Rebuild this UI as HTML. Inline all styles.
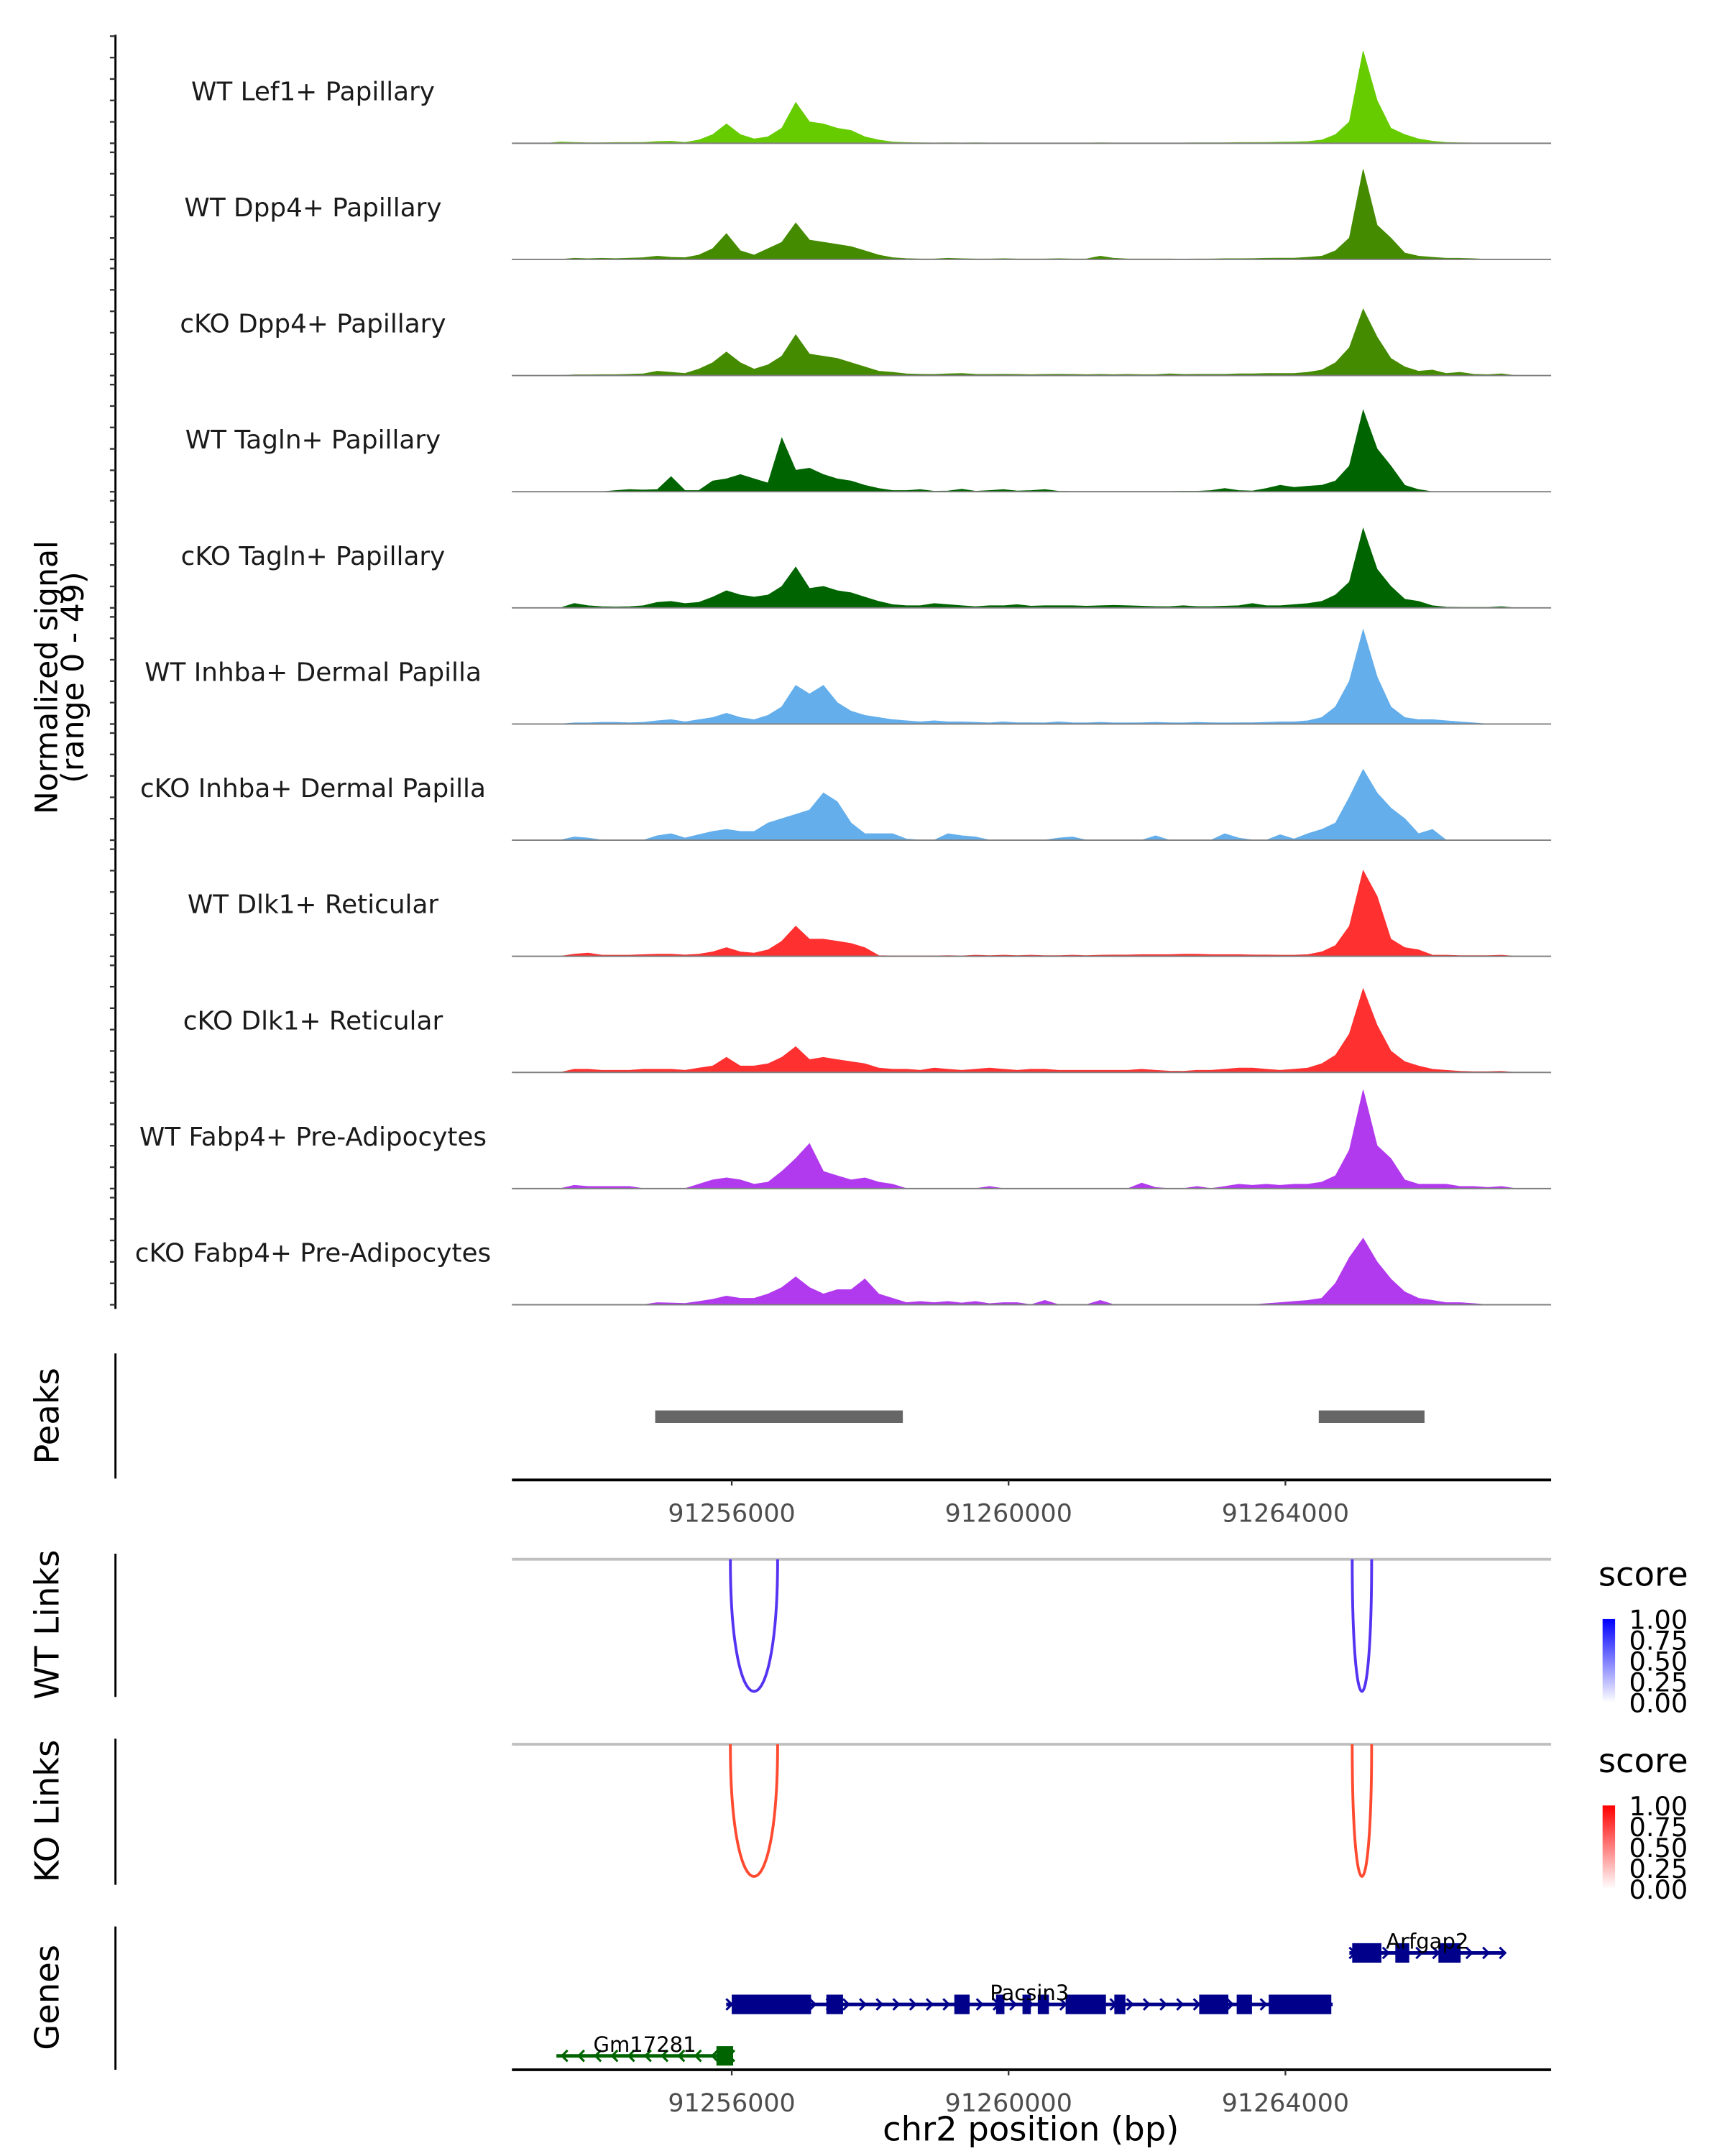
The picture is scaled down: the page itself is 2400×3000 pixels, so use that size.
<!DOCTYPE html>
<html><head><meta charset="utf-8"><style>
html,body{margin:0;padding:0;background:#fff}
svg{display:block}
text{font-family:"DejaVu Sans","Liberation Sans",sans-serif}
</style></head><body>
<svg id="fig" width="2400" height="3000" viewBox="0 0 1240 1550" xmlns="http://www.w3.org/2000/svg">
<defs>
<linearGradient id="gBlue" x1="0" y1="1" x2="0" y2="0"><stop offset="0" stop-color="#ffffff"/><stop offset="1" stop-color="#0000ff"/></linearGradient>
<linearGradient id="gRed" x1="0" y1="1" x2="0" y2="0"><stop offset="0" stop-color="#ffffff"/><stop offset="1" stop-color="#ff0000"/></linearGradient>
</defs>
<g id="tracks"></g>
<g id="lower"></g>
</svg>
<script>
// ---- data ----
const xStart = 91252824, xEnd = 91267839;
const binSize = 200;
const trackLabels = ["WT Lef1+ Papillary","WT Dpp4+ Papillary","cKO Dpp4+ Papillary","WT Tagln+ Papillary","cKO Tagln+ Papillary","WT Inhba+ Dermal Papilla","cKO Inhba+ Dermal Papilla","WT Dlk1+ Reticular","cKO Dlk1+ Reticular","WT Fabp4+ Pre-Adipocytes","cKO Fabp4+ Pre-Adipocytes"];
const trackColors = ["#66cc00","#458b00","#458b00","#006400","#006400","#63aeeb","#63aeeb","#ff3030","#ff3030","#b23aee","#b23aee"];
const t1=[0,0,0,0.6,0.4,0.2,0.2,0.3,0.3,0.4,0.8,1,0.4,1.5,4,9,4,2,3,7,19,10,9,7,6,3,1.5,0.6,0.3,0.2,0.1,0.2,0.1,0.2,0.1,0.1,0.1,0.1,0.1,0.1,0.1,0.1,0.2,0.1,0.1,0.1,0.1,0.1,0.1,0.2,0.2,0.2,0.3,0.3,0.4,0.5,0.6,0.8,1.5,4,10,43,20,7,4,2,1,0.4,0.2,0.1,0,0,0,0,0];
const t2=[0,0,0,0,0.5,0.3,0.5,0.4,0.6,0.8,1.5,1,0.8,2,5,12,4,2,5,8,17,9,8,7,6,4,2,0.8,0.4,0.2,0.2,0.5,0.3,0.2,0.2,0.3,0.2,0.2,0.2,0.3,0.2,0.2,1.5,0.5,0.2,0.2,0.2,0.2,0.1,0.2,0.2,0.3,0.3,0.4,0.5,0.6,0.6,1,1.5,4,10,42,16,10,3,1.5,1,0.5,0.5,0.3,0,0,0,0,0];
const t3=[0,0,0,0,0.3,0.3,0.4,0.4,0.6,0.8,2,1.5,1,3,6,11,6,3,5,9,19,10,9,8,6,4,2,1.5,0.8,0.6,0.5,0.8,1,0.6,0.5,0.6,0.5,0.4,0.5,0.6,0.5,0.4,0.5,0.4,0.5,0.4,0.4,0.8,0.5,0.6,0.6,0.6,0.8,0.8,1,1,1,1.5,2.5,6,13,31,18,8,4,2,2.5,1,1.5,0.6,0.4,0.8,0,0,0];
const t4=[0,0,0,0,0,0,0,0.5,1,0.8,1,7,0.5,0.5,5,6,8,6,4,25,10,11,8,6,5,3,1.5,0.5,0.5,1,0.2,0.3,1.2,0.2,0.5,1,0.3,0.5,1,0.2,0.1,0.1,0.1,0.1,0.1,0.1,0.1,0.1,0.2,0.2,0.5,1.5,0.5,0.3,1.5,3,2,2.5,3,5,12,38,20,12,3,1,0,0,0,0,0,0,0,0,0];
const t5=[0,0,0,0,2,1,0.5,0.4,0.5,1,2.5,3,2,2.5,5,8,6,5,6,10,19,9,10,8,7,5,3,1.5,1,1,2,1.5,1,0.5,1,1,1.5,0.8,1,1,1,0.8,1,1.2,1,0.8,0.6,0.5,1,0.6,0.6,0.8,1,2,1,1,1.5,2,3,6,12,37,18,10,4,3,1,0.3,0.2,0.2,0.2,0.5,0,0,0];
const t6=[0,0,0,0,0.5,0.5,0.8,0.8,0.6,0.8,1.5,2,1,2,3,5,3,2,4,8,18,14,18,10,6,4,3,2,1.5,1,1.5,1,1,0.8,0.5,1,0.6,0.6,0.5,1,0.6,0.5,0.8,0.5,0.5,0.6,0.8,0.6,0.5,0.8,0.6,0.5,0.6,0.6,0.8,1,1,1.5,3,8,20,44,22,8,3,2,2,1.5,1,0.5,0,0,0,0,0];
const t7=[0,0,0,0,1.5,1,0,0,0,0,2,3,1,2.5,4,5,4,4,8,10,12,14,22,18,8,3,3,3,0.5,0,0,3,2,1.5,0,0,0,0,0,1,1.5,0,0,0,0,0,2,0,0,0,0,3,1,0,0,2.5,0.5,3,5,8,20,33,22,15,10,3,5,0,0,0,0,0,0,0,0];
const t8=[0,0,0,0,1,1.5,0.5,0.5,0.5,0.8,1,1,0.6,1,2,4,2,1.5,3,7,14,8,8,7,6,4,0.3,0.2,0.2,0.2,0.2,0.3,0.2,0.5,0.3,0.5,0.3,0.5,0.3,0.3,0.5,0.3,0.5,0.6,0.6,0.8,0.8,0.8,1,1,0.8,0.8,0.8,0.6,0.6,0.5,0.5,0.8,2,5,14,40,28,8,4,3,0.5,0.5,0.3,0.3,0.3,0.5,0,0,0];
const t9=[0,0,0,0,1.5,1.5,1,1,1,1.5,1.5,1.5,1,2,3,7,3,3,4,7,12,6,7,6,5,4,2,1.5,1.5,1,2,1.5,1,1.5,2,1.5,1,1.5,1.5,1,1,1,1,1,1,1.5,1,0.6,0.5,1,1,1.5,2,2,1.5,1,1.5,2,4,8,18,39,22,10,5,3,1.5,1,0.5,0.3,0.3,0.5,0,0,0];
const t10=[0,0,0,0,1.5,1,1,1,1,0,0,0,0,2,4,5,4,2,3,8,14,21,8,6,4,5,3,2,0,0,0,0,0,0,1,0,0,0,0,0,0,0,0,0,0,2.5,0.5,0,0,1,0,1,2,1.5,2,1.5,2,2,3,6,18,46,20,14,4,2,2,2,1,1,0.5,1,0,0,0];
const t11=[0,0,0,0,0,0,0,0,0,0,1,0.8,0.6,1.5,2.5,4,3,3,5,8,13,8,5,7,7,12,5,3,1,1.5,1,1.5,0.8,1.5,0.5,1,1,0,2,0,0,0,2,0,0,0,0,0,0,0,0,0,0,0,0.5,1,1.5,2,3,10,22,31,20,12,6,3,2,1,1,0.5,0,0,0,0,0];
const signals=[t1,t2,t3,t4,t5,t6,t7,t8,t9,t10,t11];
const xTicks=[91256000,91260000,91264000];
const xTickLabels=["91256000","91260000","91264000"];
const peakStarts=[91254894,91264482];
const peakEnds=[91258472,91266010];
const linkStarts=[91255980,91264965];
const linkEnds=[91256663,91265246];
const legendTicks=[1.00,0.75,0.50,0.25,0.00];
const geneNames=["Arfgap2","Pacsin3","Gm17281"];
const geneStarts=[91264924,91255920,91253467];
const geneEnds=[91267176,91264683,91256020];
const geneStrand=[1,1,-1];
const exonStarts=[[91264965,91265588,91266211],[91256000,91257367,91259216,91259819,91260201,91260422,91260824,91261528,91262754,91263296,91263759],[91255779]];
const exonEnds=[[91265387,91265789,91266532],[91257146,91257608,91259437,91259940,91260322,91260583,91261407,91261688,91263176,91263517,91264663],[91256020]];

// ---- scales ----
const plotL=368, plotR=1115;
const xs = bp => plotL + (bp - xStart)/(xEnd - xStart)*(plotR-plotL);
const yUnit = 1.54;
const NS="http://www.w3.org/2000/svg";
function mk(tag, attrs, parent, txt){const e=document.createElementNS(NS,tag);for(const k in attrs)e.setAttribute(k,attrs[k]);if(txt!==undefined)e.textContent=txt;parent.appendChild(e);return e;}
const tg=document.getElementById('tracks');
const lg=document.getElementById('lower');

let ax=mk('line',{x1:83,y1:25,x2:83,y2:941,stroke:'#000','stroke-width':1.5},tg);


let yt1=mk('text',{transform:'translate(41,487) rotate(-90)','text-anchor':'middle','font-size':22,fill:'#000'},tg,'Normalized signal');


let yt2=mk('text',{transform:'translate(60,487) rotate(-90)','text-anchor':'middle','font-size':22,fill:'#000'},tg,'(range 0 - 49)');



signals.forEach((vals,k)=>{
  const base=103+k*83.5;
  for(let j=0;j<6;j++){
    let t=mk('line',{x1:79,x2:83,y1:base-j*15.4,y2:base-j*15.4,stroke:'#333','stroke-width':1.2},tg);
    
    
  }
  let lab=mk('text',{x:225,y:base-31,'text-anchor':'middle','font-size':18.5,fill:'#1a1a1a'},tg,trackLabels[k]);
  
  
  let d='M'+xs(xStart).toFixed(1)+','+base;
  vals.forEach((v,i)=>{const bp=xStart+binSize*i+binSize/2;d+=' L'+xs(bp).toFixed(1)+','+(base-v*yUnit).toFixed(1);});
  d+=' L'+xs(xStart+binSize*vals.length).toFixed(1)+','+base+' Z';
  let a=mk('path',{d:d,fill:trackColors[k],stroke:trackColors[k],'stroke-width':0.5},tg);
  
  
  let bl=mk('line',{x1:plotL,x2:plotR,y1:base,y2:base,stroke:'#7f7f7f','stroke-width':1},tg);
  
  
});

const panels=[["Peaks",973,1063,1018,"peaks-axis-title"],["WT Links",1117,1220,1168,"wt-links-axis-title"],["KO Links",1250,1355,1302,"ko-links-axis-title"],["Genes",1385,1488,1436,"genes-axis-title"]];
panels.forEach(p=>{
  let l=mk('line',{x1:83,x2:83,y1:p[1],y2:p[2],stroke:'#000','stroke-width':1.5},lg);
  
  
  let t=mk('text',{transform:`translate(42,${p[3]}) rotate(-90)`,'text-anchor':'middle','font-size':24,fill:'#000'},lg,p[0]);
  
  
});

peakStarts.forEach((s,i)=>{
  let r=mk('rect',{x:xs(s),y:1014,width:xs(peakEnds[i])-xs(s),height:9,fill:'#666'},lg);
  
  
});
function xAxis(y,name){
  let l=mk('line',{x1:plotL,x2:plotR,y1:y,y2:y,stroke:'#000','stroke-width':2},lg);
  
  
  xTicks.forEach((v,i)=>{
    let t=mk('line',{x1:xs(v),x2:xs(v),y1:y,y2:y+4,stroke:'#333','stroke-width':1.2},lg);
    
    
    let tl=mk('text',{x:xs(v),y:y+30,'text-anchor':'middle','font-size':18,fill:'#4d4d4d'},lg,xTickLabels[i]);
    
    
  });
}
xAxis(1064,'peaks-x-axis');

function links(top,color,grad,legY,name){
  let gl=mk('line',{x1:plotL,x2:plotR,y1:top,y2:top,stroke:'#bfbfbf','stroke-width':2},lg);
  
  
  linkStarts.forEach((s,i)=>{
    const a=xs(s),b=xs(linkEnds[i]);const c=top+95/0.75;
    let p=mk('path',{d:`M${a},${top} C${a},${c} ${b},${c} ${b},${top}`,fill:'none',stroke:color,'stroke-width':2},lg);
    
    
  });
  let st=mk('text',{x:1149,y:legY,'font-size':24,fill:'#000'},lg,'score');
  
  
  let cb=mk('rect',{x:1152,y:legY+24,width:9,height:60,fill:`url(#${grad})`},lg);
  
  
  legendTicks.forEach((v,i)=>{
    let t=mk('text',{x:1171,y:legY+31+i*15,'font-size':19,fill:'#000'},lg,v.toFixed(2));
    
    
  });
}
links(1121,'#5533f2','gBlue',1140,'wt-links');
links(1254,'#ff4a30','gRed',1274,'ko-links');

const geneY=[1404,1441,1478];
const geneColors=["#00008b","#00008b","#006400"];
geneNames.forEach((g,i)=>{
  const y=geneY[i],c=geneColors[i];
  const a=xs(geneStarts[i]),b=xs(geneEnds[i]);
  let ln=mk('line',{x1:a,x2:b,y1:y,y2:y,stroke:c,'stroke-width':2.5},lg);
  
  
  for(let x=a+4;x<b;x+=12){
    const dx=geneStrand[i]*4;
    let ch=mk('path',{d:`M${x-dx},${y-4} L${x},${y} L${x-dx},${y+4}`,fill:'none',stroke:c,'stroke-width':1.6},lg);
    
    
  }
  exonStarts[i].forEach((s,j)=>{
    let r=mk('rect',{x:xs(s),y:y-7,width:xs(exonEnds[i][j])-xs(s),height:14,fill:c},lg);
    
    
  });
  let t=mk('text',{x:(a+b)/2,y:y-3,'text-anchor':'middle','font-size':15,fill:'#000'},lg,g);
  
  
});
xAxis(1488,'genes-x-axis');
let xt=mk('text',{x:741,y:1539,'text-anchor':'middle','font-size':24,fill:'#000'},lg,'chr2 position (bp)');


</script>
</body></html>
